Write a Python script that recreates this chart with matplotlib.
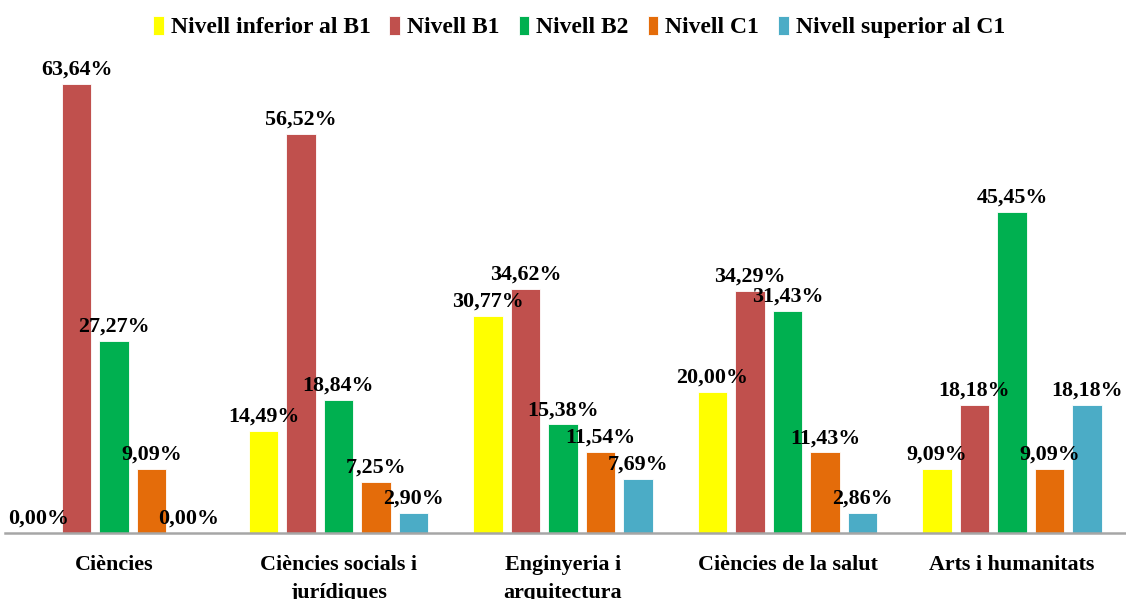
import matplotlib.pyplot as plt
import numpy as np

categories = ['Ciències', 'Ciències socials i\njurídiques', 'Enginyeria i\narquitectura',
              'Ciències de la salut', 'Arts i humanitats']
series = ['Nivell inferior al B1', 'Nivell B1', 'Nivell B2', 'Nivell C1', 'Nivell superior al C1']
colors = ['#FFFF00', '#C0504D', '#00B050', '#E46C0A', '#4BACC6']

inferior_b1 = [0.00, 14.49, 30.77, 20.00, 9.09]
nivell_b1 = [63.64, 56.52, 34.62, 34.29, 18.18]
nivell_b2 = [27.27, 18.84, 15.38, 31.43, 45.45]
nivell_c1 = [9.09, 7.25, 11.54, 11.43, 9.09]
superior_c1 = [0.00, 2.90, 7.69, 2.86, 18.18]

values = [inferior_b1, nivell_b1, nivell_b2, nivell_c1, superior_c1]

plt.rcParams['font.family'] = ['Liberation Serif', 'DejaVu Serif']
plt.rcParams['font.weight'] = 'bold'

W, H = 1126, 599
fig = plt.figure(figsize=(W / 100, H / 100), dpi=100)
ax = fig.add_axes([5 / W, (H - 533) / H, (W - 5) / W, 494 / H])

x = np.arange(len(categories))
pitch = 0.167
width = 0.13
for i, (name, vals, col) in enumerate(zip(series, values, colors)):
    pos = x + (i - 2) * pitch
    ax.bar(pos, vals, width, color=col, label=name, edgecolor='white', linewidth=0.6)
    for p, v in zip(pos, vals):
        ax.annotate(f'{v:.2f}%'.replace('.', ','), (p, v), xytext=(0, 3),
                    textcoords='offset points', ha='center', va='bottom',
                    fontsize=15.8, fontweight='bold')

ax.set_xlim(-109 / 224.5, (W - 114) / 224.5)
ax.set_ylim(0, 70)
ax.set_yticks([])
ax.set_xticks(x)
ax.set_xticklabels(categories, fontsize=15.8, fontweight='bold', linespacing=1.5)
ax.tick_params(axis='x', length=0, pad=16)
for s in ['top', 'right', 'left']:
    ax.spines[s].set_visible(False)
ax.spines['bottom'].set_color('#A6A6A6')
ax.spines['bottom'].set_linewidth(1.8)

fig.legend(loc='center', bbox_to_anchor=(579 / W, 1 - 27 / H), ncol=5, frameon=False,
           prop={'size': 17, 'weight': 'bold'}, handlelength=0.45, handleheight=0.9,
           handletextpad=0.3, columnspacing=0.8)

fig.savefig('out.png', dpi=100)
